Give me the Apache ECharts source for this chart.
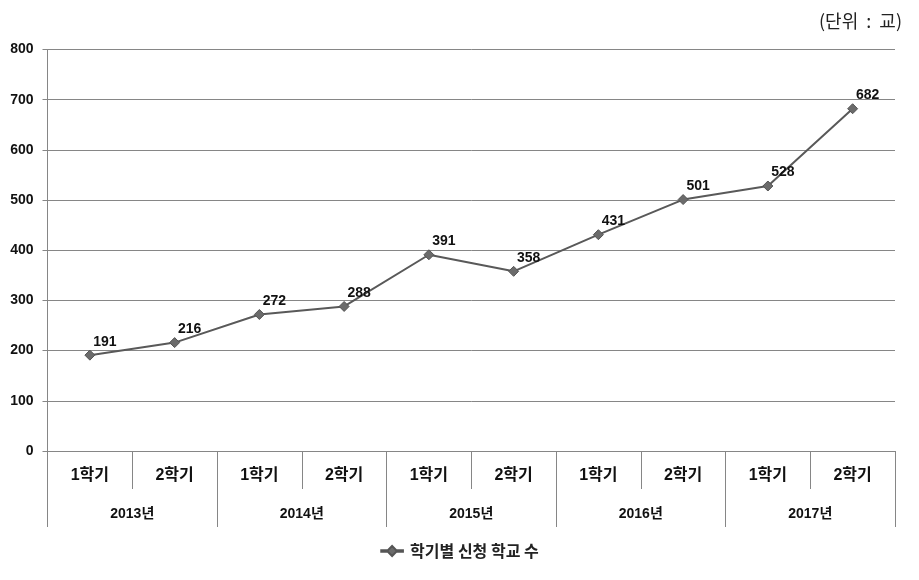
<!DOCTYPE html>
<html><head><meta charset="utf-8">
<script src="https://cdn.jsdelivr.net/npm/echarts@6/dist/echarts.min.js"></script>
<style>html,body{margin:0;padding:0;background:#fff}#c{width:919px;height:580px}</style>
</head><body><div id="c"></div>
<script>
const semesters = ['1학기','2학기','1학기','2학기','1학기','2학기','1학기','2학기','1학기','2학기'];
const years = ['2013년','2014년','2015년','2016년','2017년'];
const values = [191,216,272,288,391,358,431,501,528,682];
const seriesName = '학기별 신청 학교 수';
const unitText = '(단위  :  교)';

const FF = '"Liberation Sans", "Noto Sans CJK KR", sans-serif';
const chart = echarts.init(document.getElementById('c'));
chart.setOption({
  animation: false,
  backgroundColor: '#fff',
  title: { text: unitText, right: 12, top: 7, textStyle: { fontFamily: '"Noto Sans CJK KR", sans-serif', fontSize: 18, fontWeight: 'normal', color: '#222' } },
  grid: { left: 47.5, right: 24, top: 49.5, bottom: 129, containLabel: false },
  legend: {
    bottom: 16, left: 'center', itemWidth: 26, itemHeight: 10, itemGap: 6,
    data: [{ name: seriesName, icon: 'path://M0,4 L8,4 L13,-1 L18,4 L26,4 L26,6 L18,6 L13,11 L8,6 L0,6 Z' }],
    textStyle: { fontFamily: '"Noto Sans CJK KR", sans-serif', fontSize: 16, fontWeight: 'bold', color: '#222' }
  },
  xAxis: [{
    type: 'category', data: semesters, boundaryGap: true, position: 'bottom',
    axisLine: { lineStyle: { color: '#868686', width: 1 } },
    axisTick: { show: true, interval: 0, length: 38, lineStyle: { color: '#868686' } },
    axisLabel: { interval: 0, margin: 17, fontFamily: FF, fontSize: 16, fontWeight: 'bold', color: '#111' }
  }, {
    type: 'category', data: years, boundaryGap: true, position: 'bottom',
    axisLine: { show: false },
    axisTick: { show: true, interval: 0, length: 76, lineStyle: { color: '#868686' } },
    axisLabel: { interval: 0, margin: 56, fontFamily: FF, fontSize: 14, fontWeight: 'bold', color: '#111' }
  }],
  yAxis: {
    type: 'value', min: 0, max: 800, interval: 100,
    axisLine: { show: true, lineStyle: { color: '#868686' } },
    axisTick: { show: true, length: 5, lineStyle: { color: '#868686' } },
    splitLine: { lineStyle: { color: '#868686', width: 1 } },
    axisLabel: { margin: 14, fontFamily: FF, fontSize: 14, fontWeight: 'bold', color: '#111' }
  },
  series: [{
    name: seriesName, type: 'line', xAxisIndex: 0, data: values,
    symbol: 'path://M0,5 L5,0 L10,5 L5,10 Z', symbolSize: 10,
    lineStyle: { color: '#595959', width: 2 },
    itemStyle: { color: '#6b6b6b', borderColor: '#555', borderWidth: 1 },
    label: { show: true, position: 'top', distance: 1, offset: [15, 0], fontFamily: FF, fontSize: 14, fontWeight: 'bold', color: '#111' }
  }]
});
</script></body></html>
